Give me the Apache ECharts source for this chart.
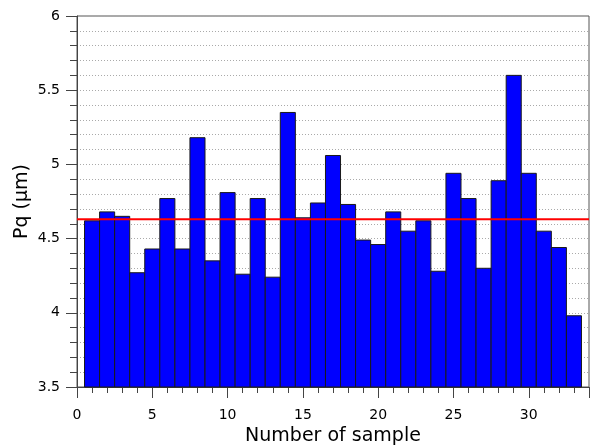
<!DOCTYPE html>
<html>
<head>
<meta charset="utf-8">
<script src="https://cdn.jsdelivr.net/npm/echarts@6/dist/echarts.min.js"></script>
<style>
    html, body { margin: 0; padding: 0; background: #fff; }
    #echart { width: 592px; height: 446px; }
</style>
</head>
<body>
<div id="echart"></div>
<script>
// sample numbers and Pq values
const SampleList = [1, 2, 3, 4, 5, 6, 7, 8, 9, 10, 11, 12, 13, 14, 15, 16, 17,
    18, 19, 20, 21, 22, 23, 24, 25, 26, 27, 28, 29, 30, 31, 32, 33];
const PqList = [4.62, 4.68, 4.65, 4.27, 4.43, 4.77, 4.43, 5.18, 4.35, 4.81, 4.26, 4.77, 4.24, 5.35, 4.64, 4.74, 5.06,
    4.73, 4.49, 4.46, 4.68, 4.55, 4.62, 4.28, 4.94, 4.77, 4.30, 4.89, 5.60, 4.94, 4.55, 4.44, 3.98];
const MeanPq = 4.63;
const XRange = [0, 34];
const YRange = [3.5, 6];

function render_chart() {
    const barData = SampleList.map(function (s, i) {
        return [s, PqList[i]];
    });

    var option = {
        animation: false,
        textStyle: {
            fontFamily: 'DejaVu Sans'
        },
        grid: {
            left: 77,
            right: 3,
            top: 16,
            bottom: 59,
            outerBoundsMode: 'none',
            containLabel: false,
            show: true,
            borderColor: '#555',
            borderWidth: 1
        },
        xAxis: {
            type: 'value',
            min: XRange[0],
            max: XRange[1],
            interval: 5,
            name: 'Number of sample',
            nameLocation: 'middle',
            nameGap: 40,
            nameMoveOverlap: false,
            nameTextStyle: {fontSize: 19, color: '#000'},
            axisLine: {onZero: false, lineStyle: {color: '#444'}},
            axisTick: {length: 11, lineStyle: {color: '#444'}},
            minorTick: {show: true, splitNumber: 5, length: 6, lineStyle: {color: '#444'}},
            axisLabel: {fontSize: 14, color: '#000', margin: 21, showMaxLabel: false},
            splitLine: {show: false}
        },
        yAxis: {
            type: 'value',
            min: YRange[0],
            max: YRange[1],
            interval: 0.5,
            name: 'Pq (\u00b5m)',
            nameLocation: 'middle',
            nameGap: 45,
            nameMoveOverlap: false,
            nameTextStyle: {fontSize: 19, color: '#000'},
            axisLine: {show: true, lineStyle: {color: '#444'}},
            axisTick: {show: true, length: 11, lineStyle: {color: '#444'}},
            minorTick: {show: true, splitNumber: 5, length: 7, lineStyle: {color: '#444'}},
            axisLabel: {fontSize: 14, color: '#000', margin: 17},
            splitLine: {show: true, lineStyle: {color: '#aaa', type: [1, 2]}},
            minorSplitLine: {show: true, lineStyle: {color: '#aaa', type: [1, 2]}}
        },
        series: [{
            type: 'custom',
            data: barData,
            renderItem: function (params, api) {
                const x = api.value(0);
                const v = api.value(1);
                const p0 = api.coord([x - 0.5, v]);
                const p1 = api.coord([x + 0.5, YRange[0]]);
                return {
                    type: 'rect',
                    shape: {x: p0[0], y: p0[1], width: p1[0] - p0[0], height: p1[1] - p0[1]},
                    style: {fill: '#0000ff', stroke: '#1a1a1a', lineWidth: 1}
                };
            },
            z: 2
        }, {
            type: 'line',
            data: [[XRange[0], MeanPq], [XRange[1], MeanPq]],
            showSymbol: false,
            lineStyle: {color: '#ff0000', width: 2},
            z: 3
        }]
    };

    var barChart = echarts.init(document.getElementById('echart'));
    barChart.setOption(option);
}

render_chart();
</script>
</body>
</html>
